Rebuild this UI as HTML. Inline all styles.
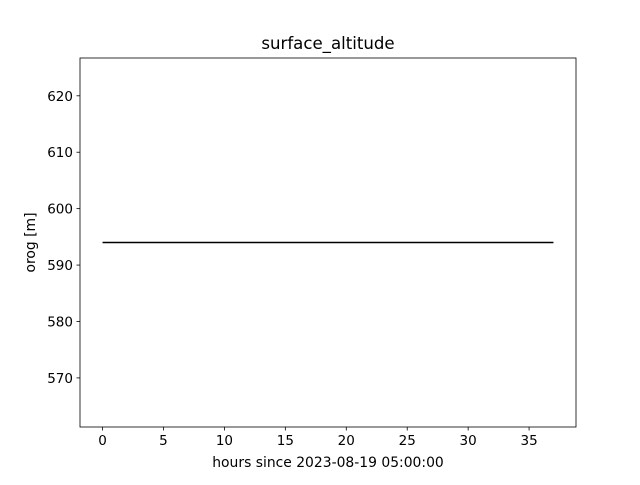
<!DOCTYPE html>
<html><head><meta charset="utf-8"><style>
body{margin:0;background:#fff;}
svg text{font-family:"DejaVu Sans","Liberation Sans",sans-serif;}
</style></head><body>
<svg id="chart" width="640" height="480">
<rect x="0" y="0" width="640" height="480" fill="#fff"/>
<text x="328" y="49" text-anchor="middle" font-size="16.6">surface_altitude</text>
<g id="plot"></g>
<rect x="80" y="58" width="496" height="369" fill="none" stroke="#000" stroke-width="0.8"/>
<text x="328" y="467" text-anchor="middle" font-size="13.9">hours since 2023-08-19 05:00:00</text>
<text transform="translate(35,242.5) rotate(-90)" text-anchor="middle" font-size="13.9">orog [m]</text>
</svg>
<script>
const hours = [0,1,2,3,4,5,6,7,8,9,10,11,12,13,14,15,16,17,18,19,20,21,22,23,24,25,26,27,28,29,30,31,32,33,34,35,36,37];
const orog = [594,594,594,594,594,594,594,594,594,594,594,594,594,594,594,594,594,594,594,594,594,594,594,594,594,594,594,594,594,594,594,594,594,594,594,594,594,594];
const xTicks = [0,5,10,15,20,25,30,35];
const yTicks = [570,580,590,600,610,620];
const ns = "http://www.w3.org/2000/svg";
const X0=80,X1=576,Y0=58,Y1=427;
const xmin=-1.85,xmax=38.85,ymin=561.3,ymax=626.7;
const sx=v=>X0+(v-xmin)/(xmax-xmin)*(X1-X0);
const sy=v=>Y1-(v-ymin)/(ymax-ymin)*(Y1-Y0);
const svg=document.getElementById('chart');
const g=document.getElementById('plot');
function mk(t,a){const e=document.createElementNS(ns,t);for(const k in a)e.setAttribute(k,a[k]);return e;}
xTicks.forEach(v=>{
  const l=mk('line',{x1:sx(v),x2:sx(v),y1:Y1,y2:Y1+3.5,stroke:'#000','stroke-width':0.8});
  
  
  svg.appendChild(l);
  const t=mk('text',{x:sx(v),y:Y1+18,'text-anchor':'middle','font-size':13.5});
  t.textContent=v;
  
  
  svg.appendChild(t);
});
yTicks.forEach(v=>{
  const l=mk('line',{x1:X0-3.5,x2:X0,y1:sy(v),y2:sy(v),stroke:'#000','stroke-width':0.8});
  
  
  svg.appendChild(l);
  const t=mk('text',{x:X0-7,y:sy(v)+5,'text-anchor':'end','font-size':13.5});
  t.textContent=v;
  
  
  svg.appendChild(t);
});
const pts=hours.map((h,i)=>sx(h)+','+sy(orog[i])).join(' ');
const pl=mk('polyline',{points:pts,fill:'none',stroke:'#000','stroke-width':1.5});


g.appendChild(pl);
</script>
</body></html>
